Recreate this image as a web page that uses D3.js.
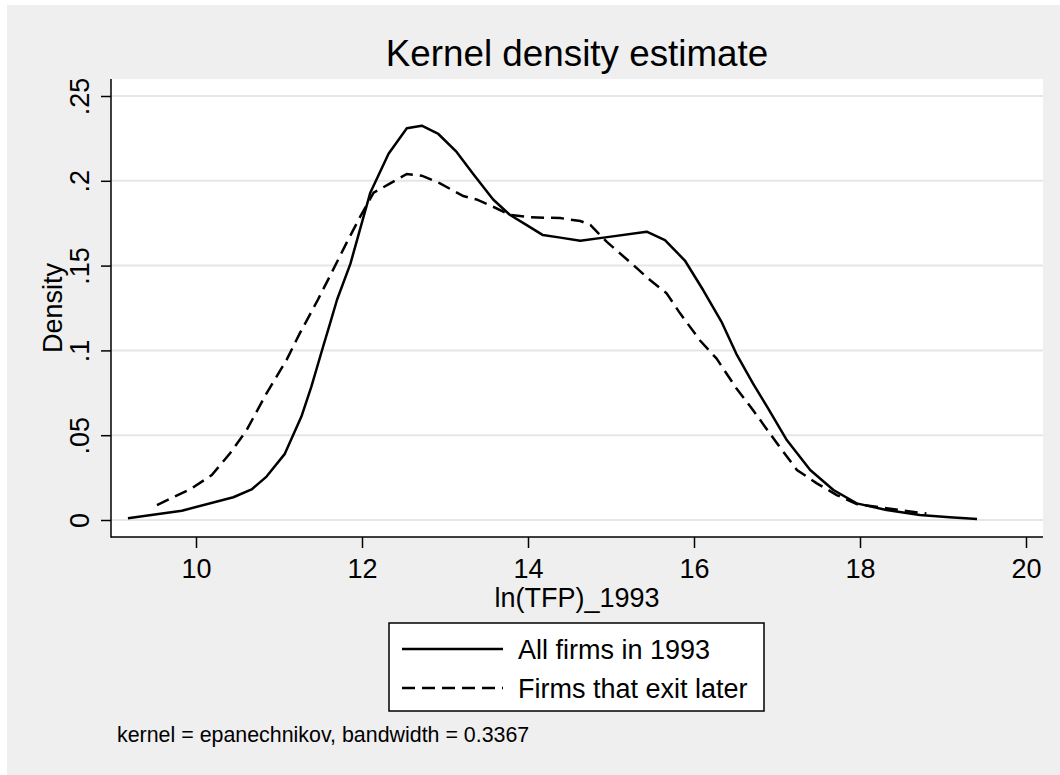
<!DOCTYPE html>
<html>
<head>
<meta charset="utf-8">
<script src="https://cdn.jsdelivr.net/npm/d3@7"></script>
<style>
  html, body { margin: 0; padding: 0; background: #ffffff; }
  svg text { font-family: "Liberation Sans", Arial, sans-serif; fill: #000; }
</style>
</head>
<body>
<svg id="chart" width="1060" height="775"></svg>
<script>
// ln(TFP) grid and densities
var allX = [9.18, 9.83, 10.45, 10.67, 10.85, 11.07, 11.27, 11.39, 11.53, 11.61, 11.70, 11.86, 12.10,
            12.32, 12.54, 12.72, 12.92, 13.14, 13.34, 13.58, 13.78, 13.98, 14.18, 14.39, 14.63,
            14.91, 15.43, 15.65, 15.89, 16.11, 16.33, 16.51, 16.71, 16.88, 17.12, 17.40, 17.68,
            17.96, 18.32, 18.72, 19.08, 19.41];
var allY = [0.001, 0.0055, 0.0134, 0.018, 0.0256, 0.039, 0.061, 0.0786, 0.102, 0.115, 0.130, 0.151, 0.193,
            0.216, 0.231, 0.2325, 0.2276, 0.217, 0.204, 0.189, 0.180, 0.174, 0.168, 0.1665, 0.1647,
            0.1665, 0.170, 0.165, 0.153, 0.1356, 0.117, 0.098, 0.0806, 0.0668, 0.047, 0.0295, 0.0177,
            0.0098, 0.0059, 0.003, 0.0016, 0.0006];

var exitX = [9.53, 9.95, 10.19, 10.41, 10.61, 10.85, 11.09, 11.25, 11.47, 11.61, 11.82, 11.98, 12.14,
             12.34, 12.54, 12.72, 12.94, 13.22, 13.38, 13.58, 13.78, 14.02, 14.39, 14.63, 14.75,
             14.95, 15.23, 15.47, 15.67, 15.83, 16.07, 16.27, 16.51, 16.71, 17.0, 17.24, 17.48,
             17.72, 17.96, 18.32, 18.8];
var exitY = [0.0088, 0.0187, 0.0265, 0.0393, 0.053, 0.0747, 0.0943, 0.110, 0.130, 0.1435, 0.164, 0.179, 0.193,
             0.1985, 0.204, 0.203, 0.1985, 0.191, 0.189, 0.1847, 0.180, 0.1785, 0.178, 0.1763, 0.174,
             0.164, 0.152, 0.1415, 0.1337, 0.122, 0.106, 0.0953, 0.0777, 0.0649, 0.0452, 0.0295, 0.0216,
             0.0147, 0.0094, 0.0069, 0.0038];

var xTicks = [10, 12, 14, 16, 18, 20];
var yTicks = [0, 0.05, 0.1, 0.15, 0.2, 0.25];
var yTickLabels = ["0", ".05", ".1", ".15", ".2", ".25"];
var seriesNames = ["All firms in 1993", "Firms that exit later"];
var titleText = "Kernel density estimate";
var xTitle = "ln(TFP)_1993";
var yTitle = "Density";
var noteText = "kernel = epanechnikov, bandwidth = 0.3367";

var svg = d3.select("#chart");

// plot region edges
var L = 111, R = 1043, T = 79, B = 537;

var x = d3.scaleLinear().domain([10, 20]).range([196, 1026]);
var y = d3.scaleLinear().domain([0, 0.25]).range([520, 96]);

// outer gray background
svg.append("rect").attr("x", 7).attr("y", 5).attr("width", 1053).attr("height", 770)
    .attr("fill", "#efefef");
svg.append("rect").attr("x", L).attr("y", T).attr("width", R - L).attr("height", B - T)
    .attr("fill", "#ffffff");

// gridlines
svg.selectAll(".grid").data(yTicks).enter()
    .append("line").classed("grid", true)
        .attr("x1", L).attr("x2", R)
        .attr("y1", function(d){ return y(d); })
        .attr("y2", function(d){ return y(d); })
        .attr("stroke", "#e6e6e6").attr("stroke-width", 2);

// axes
var yAxis = svg.append("g").attr("transform", "translate(" + L + ",0)")
    .call(d3.axisLeft(y).tickValues(yTicks).tickSize(10).tickSizeOuter(0)
        .tickFormat(function(d, i){ return yTickLabels[i]; }));
yAxis.select(".domain").remove();
yAxis.selectAll(".tick line").attr("stroke", "#000").attr("stroke-width", 1.5);
yAxis.selectAll(".tick text")
    .attr("x", null).attr("dy", null)
    .attr("transform", "translate(-22,0) rotate(-90)")
    .attr("text-anchor", "middle")
    .style("font-size", "27px");

var xAxis = svg.append("g").attr("transform", "translate(0," + B + ")")
    .call(d3.axisBottom(x).tickValues(xTicks).tickSize(11).tickSizeOuter(0)
        .tickFormat(d3.format("d")));
xAxis.select(".domain").remove();
xAxis.selectAll(".tick line").attr("stroke", "#000").attr("stroke-width", 1.5);
xAxis.selectAll(".tick text")
    .attr("y", 41).attr("dy", null)
    .style("font-size", "27px");

svg.append("line").attr("x1", L).attr("x2", L).attr("y1", T).attr("y2", B + 0.75)
    .attr("stroke", "#000").attr("stroke-width", 1.5);
svg.append("line").attr("x1", L).attr("x2", R).attr("y1", B).attr("y2", B)
    .attr("stroke", "#000").attr("stroke-width", 1.5);

// curves
var line = d3.line()
    .x(function(d){ return x(d[0]); })
    .y(function(d){ return y(d[1]); });

svg.append("path")
    .datum(d3.zip(allX, allY))
    .attr("d", line)
    .attr("fill", "none").attr("stroke", "#000").attr("stroke-width", 2.5)
    .attr("stroke-linejoin", "round");

svg.append("path")
    .datum(d3.zip(exitX, exitY))
    .attr("d", line)
    .attr("fill", "none").attr("stroke", "#000").attr("stroke-width", 2.5)
    .attr("stroke-dasharray", "13,7");

// titles
svg.append("text").attr("x", (L + R) / 2).attr("y", 66)
    .attr("text-anchor", "middle").style("font-size", "36.8px").text(titleText);
svg.append("text").attr("x", (L + R) / 2).attr("y", 607)
    .attr("text-anchor", "middle").style("font-size", "27px").text(xTitle);
svg.append("text")
    .attr("transform", "translate(62," + ((T + B) / 2) + ") rotate(-90)")
    .attr("text-anchor", "middle").style("font-size", "27px").text(yTitle);

// legend
var legend = svg.append("g");
legend.append("rect").attr("x", 389).attr("y", 623).attr("width", 375).attr("height", 88)
    .attr("fill", "#fff").attr("stroke", "#000").attr("stroke-width", 1.5);
var items = legend.selectAll(".item").data(seriesNames).enter()
    .append("g").classed("item", true)
    .attr("transform", function(d, i){ return "translate(0," + (649 + i * 39) + ")"; });
items.append("line").attr("x1", 402).attr("x2", 503).attr("y1", 0).attr("y2", 0)
    .attr("stroke", "#000").attr("stroke-width", 2.5)
    .attr("stroke-dasharray", function(d, i){ return i ? "13,7" : null; });
items.append("text").attr("x", 518).attr("y", 10)
    .style("font-size", "27px").text(function(d){ return d; });

// note
svg.append("text").attr("x", 117).attr("y", 742).style("font-size", "21.4px").text(noteText);
</script>
</body>
</html>
